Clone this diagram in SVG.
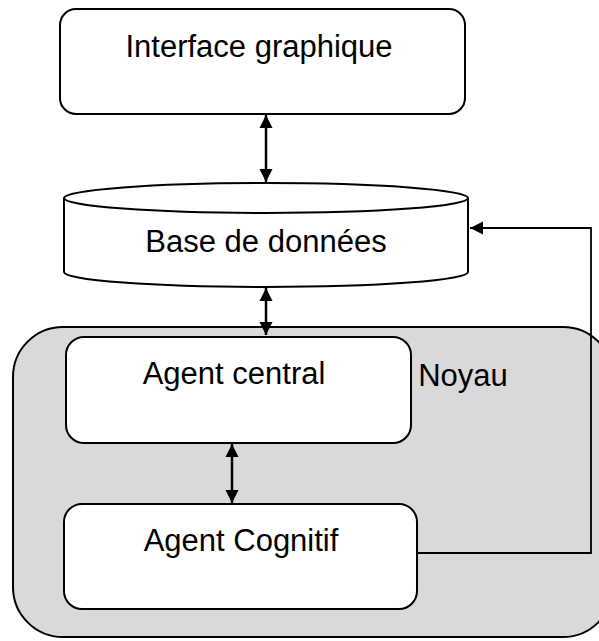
<svg xmlns="http://www.w3.org/2000/svg" width="599" height="641" viewBox="0 0 599 641">
<style>
.box{fill:#fff;stroke:#000;stroke-width:2}
.lbl{font-family:"Liberation Sans",Arial,sans-serif;font-size:31px;fill:#000;text-anchor:middle}
.con{fill:none;stroke:#000;stroke-width:2.5}
.thin{fill:none;stroke:#000;stroke-width:1.8}
</style>
<defs>
<marker id="ah" markerUnits="userSpaceOnUse" markerWidth="14" markerHeight="14" viewBox="0 0 14 14" refX="13" refY="7" orient="auto-start-reverse">
<path d="M0,0.5 L13,7 L0,13.5 Z" fill="#000"/>
</marker>
</defs>
<g id="noyau">
<rect x="13" y="327" width="600" height="310" rx="50" ry="50" fill="#d9d9d9" stroke="#000" stroke-width="2"/>
<text class="lbl" x="463" y="386">Noyau</text>
</g>
<g id="interface">
<rect class="box" x="60" y="9" width="405" height="105" rx="16" ry="16"/>
<text class="lbl" x="259" y="57">Interface graphique</text>
</g>
<g id="base">
<path class="box" d="M64,198 L64,272 A202,15 0 0 0 468,272 L468,198"/>
<ellipse class="box" cx="266" cy="198" rx="202" ry="15"/>
<text class="lbl" x="266" y="252">Base de données</text>
</g>
<g id="central">
<rect class="box" x="66" y="337" width="345" height="106" rx="18" ry="18"/>
<text class="lbl" x="234" y="384">Agent central</text>
</g>
<g id="cognitif">
<rect class="box" x="64" y="504" width="353" height="105" rx="18" ry="18"/>
<text class="lbl" x="241" y="551">Agent Cognitif</text>
</g>
<g id="connectors">
<line class="con" x1="266" y1="115" x2="266" y2="182" marker-start="url(#ah)" marker-end="url(#ah)"/>
<line class="con" x1="266" y1="288" x2="266" y2="335" marker-start="url(#ah)" marker-end="url(#ah)"/>
<line class="con" x1="232" y1="444" x2="232" y2="503" marker-start="url(#ah)" marker-end="url(#ah)"/>
<polyline class="thin" points="417,553 591,553 591,228 470,228" marker-end="url(#ah)"/>
</g>
</svg>
